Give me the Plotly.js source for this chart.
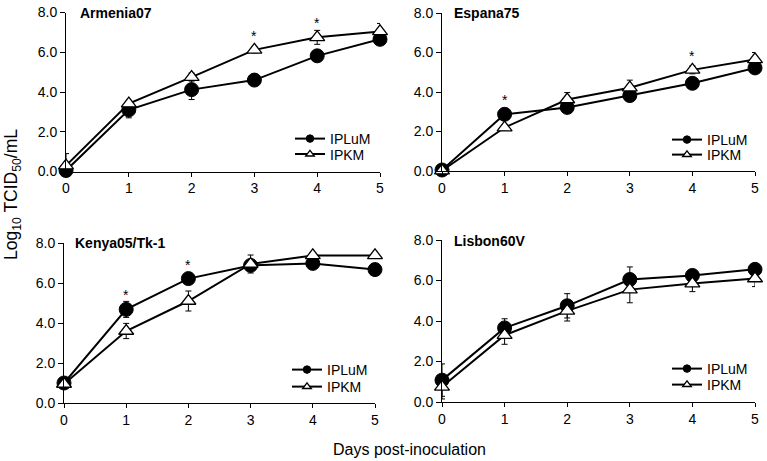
<!DOCTYPE html>
<html>
<head>
<meta charset="utf-8">
<script src="https://cdn.plot.ly/plotly-3.0.1.min.js"></script>
<style>html,body{margin:0;padding:0;background:#fff}#chart{width:767px;height:461px}</style>
</head>
<body>
<div id="chart"></div>
<script>
const days = [0, 1, 2, 3, 4, 5];
const xTickLabels = ['0', '1', '2', '3', '4', '5'];
const yTickVals = [0, 2, 4, 6, 8];
const seriesNames = ['IPLuM', 'IPKM'];
const panelTitles = ['Armenia07', 'Espana75', 'Kenya05/Tk-1', 'Lisbon60V'];

// Armenia07
const armeniaIPLuM = [0.05, 3.10, 4.12, 4.60, 5.82, 6.65];
const armeniaIPLuMErr = [0.10, 0.40, 0.50, 0.15, 0.15, 0.20];
const armeniaIPKM = [0.30, 3.42, 4.75, 6.12, 6.75, 7.05];
const armeniaIPKMErr = [0.60, 0.15, 0.20, 0.15, 0.35, 0.40];
const armeniaSig = [3, 4];

// Espana75
const espanaIPLuM = [0.05, 2.87, 3.22, 3.82, 4.44, 5.22];
const espanaIPLuMErr = [0.10, 0.15, 0.15, 0.15, 0.15, 0.15];
const espanaIPKM = [0.02, 2.20, 3.62, 4.22, 5.12, 5.65];
const espanaIPKMErr = [0.05, 0.15, 0.35, 0.38, 0.20, 0.35];
const espanaSig = [1, 4];

// Kenya05/Tk-1
const kenyaIPLuM = [1.00, 4.68, 6.22, 6.88, 6.98, 6.67];
const kenyaIPLuMErr = [0.15, 0.40, 0.15, 0.20, 0.15, 0.15];
const kenyaIPKM = [0.95, 3.60, 5.10, 6.95, 7.38, 7.38];
const kenyaIPKMErr = [0.15, 0.38, 0.50, 0.45, 0.10, 0.10];
const kenyaSig = [1, 2];

// Lisbon60V
const lisbonIPLuM = [1.08, 3.66, 4.75, 6.05, 6.25, 6.55];
const lisbonIPLuMErr = [0.80, 0.45, 0.60, 0.62, 0.20, 0.15];
const lisbonIPKM = [0.75, 3.30, 4.50, 5.55, 5.85, 6.10];
const lisbonIPKMErr = [0.60, 0.45, 0.50, 0.65, 0.40, 0.40];
const lisbonSig = [];

const panels = [
  {a: armeniaIPLuM, ae: armeniaIPLuMErr, b: armeniaIPKM, be: armeniaIPKMErr, sig: armeniaSig},
  {a: espanaIPLuM, ae: espanaIPLuMErr, b: espanaIPKM, be: espanaIPKMErr, sig: espanaSig},
  {a: kenyaIPLuM, ae: kenyaIPLuMErr, b: kenyaIPKM, be: kenyaIPKMErr, sig: kenyaSig},
  {a: lisbonIPLuM, ae: lisbonIPLuMErr, b: lisbonIPKM, be: lisbonIPKMErr, sig: lisbonSig}
];

const W = 767, H = 461;
const FONT = 'Liberation Sans, Arial, Helvetica, sans-serif';
// pixel geometry of each panel: [x0, x5, y0(px for value 0), y8(px for value 8)]
const geom = [
  [66, 380, 171.5, 12.5],
  [442, 755, 171, 13],
  [64, 375, 403, 243],
  [442, 755, 402, 240]
];
// legend text start x, and y centres of the two entries
const legendPos = [[332, 139, 154.5], [709, 140, 155], [329, 370, 387], [709, 369, 385]];
const titlePos = [[78, 13], [452, 13], [73, 243], [452, 241]];

const traces = [];
const layout = {
  width: W, height: H,
  margin: {l: 0, r: 0, t: 0, b: 0},
  paper_bgcolor: '#fff', plot_bgcolor: 'rgba(0,0,0,0)',
  font: {family: FONT, size: 14, color: '#000'},
  showlegend: true,
  annotations: []
};

const styleA = {line: {color: '#000', width: 2}, marker: {symbol: 'circle', color: '#000', line: {color: '#000', width: 1}}};
const styleB = {line: {color: '#000', width: 2}, marker: {symbol: 'triangle-up', color: '#fff', line: {color: '#000', width: 1.3}}};

let legN = 0;
function legendName() { legN += 1; return legN === 1 ? 'legend' : 'legend' + legN; }

panels.forEach((p, i) => {
  const k = i === 0 ? '' : String(i + 1);
  const g = geom[i];
  const xa = 'xaxis' + k, ya = 'yaxis' + k;
  layout[xa] = {
    domain: [g[0] / W, g[1] / W], range: [0, 5], anchor: 'y' + k,
    tickvals: days, ticktext: xTickLabels,
    showline: true, linecolor: '#000', linewidth: 1, mirror: false,
    ticks: 'outside', ticklen: 4, tickcolor: '#000', tickwidth: 1,
    showgrid: false, zeroline: false, fixedrange: true,
    tickfont: {size: 14, family: FONT, color: '#000'}
  };
  layout[ya] = {
    domain: [1 - g[2] / H, 1 - g[3] / H], range: [0, 8], anchor: 'x' + k,
    tickvals: yTickVals, tickformat: '.1f',
    showline: true, linecolor: '#000', linewidth: 1,
    ticks: 'outside', ticklen: 5, tickcolor: '#000', tickwidth: 1,
    showgrid: false, zeroline: false, fixedrange: true,
    tickfont: {size: 14, family: FONT, color: '#000'}
  };
  traces.push({
    x: days, y: p.a, type: 'scatter', mode: 'lines+markers',
    name: seriesNames[0], xaxis: 'x' + k, yaxis: 'y' + k, showlegend: false,
    line: styleA.line, marker: Object.assign({size: 14}, styleA.marker),
    error_y: {type: 'data', array: p.ae, visible: true, color: '#000', thickness: 1, width: 3},
    cliponaxis: false
  });
  traces.push({
    x: days, y: p.b, type: 'scatter', mode: 'lines+markers',
    name: seriesNames[1], xaxis: 'x' + k, yaxis: 'y' + k, showlegend: false,
    line: styleB.line, marker: Object.assign({size: 13}, styleB.marker),
    error_y: {type: 'data', array: p.be, visible: true, color: '#000', thickness: 1, width: 3},
    cliponaxis: false
  });
  [styleA, styleB].forEach((st, j) => {
    const ln = legendName();
    layout[ln] = {
      x: (legendPos[i][0] - 42) / W, y: 1 - legendPos[i][1 + j] / H,
      xanchor: 'left', yanchor: 'middle',
      bgcolor: 'rgba(0,0,0,0)', borderwidth: 0,
      font: {size: 14, family: FONT, color: '#000'}
    };
    traces.push({
      x: [null], y: [null], type: 'scatter', mode: 'lines+markers',
      name: seriesNames[j], xaxis: 'x' + k, yaxis: 'y' + k, legend: ln, showlegend: true,
      line: st.line, marker: Object.assign({size: 7.5}, st.marker), hoverinfo: 'skip'
    });
  });
  layout.annotations.push({
    xref: 'paper', yref: 'paper', x: titlePos[i][0] / W, y: 1 - titlePos[i][1] / H,
    xanchor: 'left', yanchor: 'middle', showarrow: false,
    text: '<b>' + panelTitles[i] + '</b>', font: {size: 14, family: FONT, color: '#000'}
  });
  p.sig.forEach(d => {
    const idx = days.indexOf(d);
    layout.annotations.push({
      xref: 'x' + k, yref: 'y' + k, x: d, y: Math.max(p.a[idx], p.b[idx]),
      xanchor: 'center', yanchor: 'middle', yshift: 14, showarrow: false,
      text: '*', font: {size: 14, family: FONT, color: '#000'}
    });
  });
});

layout.annotations.push({
  xref: 'paper', yref: 'paper', x: 12 / W, y: 1 - 195 / H, xanchor: 'center', yanchor: 'middle',
  showarrow: false, textangle: -90,
  text: 'Log<sub>10</sub> TCID<sub>50</sub>/mL', font: {size: 17.5, family: FONT, color: '#000'}
});
layout.annotations.push({
  xref: 'paper', yref: 'paper', x: 410 / W, y: 1 - 449 / H, xanchor: 'center', yanchor: 'middle',
  showarrow: false, text: 'Days post-inoculation', font: {size: 16, family: FONT, color: '#000'}
});

Plotly.newPlot('chart', traces, layout, {displayModeBar: false, staticPlot: true});
</script>
</body>
</html>
